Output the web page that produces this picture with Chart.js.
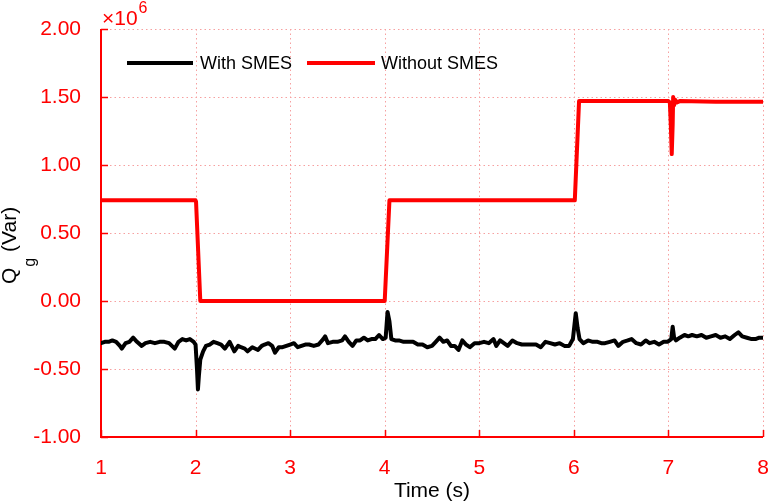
<!DOCTYPE html>
<html><head><meta charset="utf-8">
<script src="https://cdn.jsdelivr.net/npm/chart.js@4.4.1/dist/chart.umd.min.js"></script>
<style>html,body{margin:0;padding:0;background:#fff}#wrap{width:768px;height:502px}</style>
</head><body><div id="wrap"><canvas id="c" width="768" height="502"></canvas></div>
<script>
// Time (s)
const timeWith = [
1.00,1.04,1.08,1.12,1.16,1.20,1.22,1.26,1.30,1.34,
1.38,1.43,1.47,1.52,1.57,1.62,1.67,1.72,1.78,1.82,
1.86,1.90,1.94,1.98,2.00,2.015,2.025,2.035,2.05,2.08,
2.11,2.15,2.19,2.23,2.27,2.31,2.36,2.41,2.45,2.48,
2.52,2.55,2.60,2.66,2.70,2.73,2.77,2.81,2.84,2.88,
2.92,2.96,3.00,3.04,3.08,3.12,3.16,3.20,3.25,3.30,
3.35,3.37,3.40,3.45,3.50,3.55,3.58,3.62,3.66,3.70,
3.74,3.78,3.82,3.86,3.90,3.94,3.98,4.01,4.03,4.05,
4.07,4.11,4.15,4.20,4.25,4.30,4.35,4.40,4.45,4.50,
4.54,4.58,4.62,4.66,4.70,4.74,4.78,4.82,4.86,4.90,
4.95,5.00,5.05,5.10,5.15,5.18,5.22,5.26,5.30,5.35,
5.40,5.45,5.50,5.55,5.60,5.65,5.70,5.75,5.80,5.85,
5.90,5.95,5.99,6.02,6.04,6.06,6.10,6.15,6.20,6.25,
6.29,6.33,6.38,6.43,6.47,6.52,6.57,6.61,6.66,6.71,
6.76,6.80,6.85,6.90,6.95,6.99,7.03,7.045,7.06,7.08,
7.12,7.17,7.21,7.25,7.30,7.35,7.40,7.45,7.50,7.55,
7.60,7.65,7.70,7.74,7.78,7.83,7.88,7.92,7.96,8.00];
// Qg with SMES (x10^6 Var)
const qWith = [
-0.31,-0.30,-0.30,-0.29,-0.30,-0.33,-0.35,-0.31,-0.30,-0.27,
-0.30,-0.33,-0.31,-0.30,-0.31,-0.30,-0.30,-0.31,-0.35,-0.30,
-0.28,-0.29,-0.28,-0.30,-0.32,-0.50,-0.65,-0.55,-0.43,-0.37,
-0.33,-0.32,-0.30,-0.31,-0.32,-0.35,-0.30,-0.37,-0.33,-0.34,
-0.35,-0.37,-0.34,-0.36,-0.33,-0.32,-0.31,-0.33,-0.38,-0.34,
-0.34,-0.33,-0.32,-0.31,-0.34,-0.33,-0.32,-0.32,-0.33,-0.32,
-0.28,-0.26,-0.31,-0.30,-0.30,-0.29,-0.26,-0.30,-0.33,-0.29,
-0.29,-0.27,-0.29,-0.28,-0.28,-0.25,-0.28,-0.27,-0.08,-0.15,
-0.28,-0.29,-0.29,-0.30,-0.30,-0.30,-0.32,-0.32,-0.34,-0.33,
-0.30,-0.27,-0.30,-0.29,-0.33,-0.33,-0.36,-0.29,-0.32,-0.34,
-0.31,-0.31,-0.30,-0.31,-0.28,-0.33,-0.29,-0.31,-0.33,-0.29,
-0.31,-0.32,-0.32,-0.32,-0.32,-0.34,-0.30,-0.31,-0.32,-0.31,
-0.33,-0.33,-0.28,-0.09,-0.20,-0.28,-0.31,-0.29,-0.30,-0.30,
-0.31,-0.31,-0.30,-0.29,-0.33,-0.30,-0.29,-0.28,-0.31,-0.32,
-0.29,-0.31,-0.30,-0.32,-0.30,-0.30,-0.28,-0.19,-0.27,-0.29,
-0.27,-0.25,-0.26,-0.25,-0.26,-0.25,-0.27,-0.26,-0.25,-0.27,
-0.26,-0.28,-0.25,-0.23,-0.26,-0.27,-0.28,-0.28,-0.27,-0.27];
const timeWithout = [1.00,1.30,1.60,2.00,2.005,2.05,2.50,3.00,3.50,4.00,4.05,4.50,5.00,5.50,6.01,6.055,6.50,7.00,7.015,7.025,7.035,7.045,7.05,7.06,7.07,7.09,7.12,7.50,8.00];
const qWithout = [0.74,0.74,0.74,0.74,0.73,0.00,0.00,0.00,0.00,0.00,0.74,0.74,0.74,0.74,0.74,1.47,1.47,1.47,1.46,1.30,1.08,1.30,1.50,1.44,1.48,1.46,1.47,1.465,1.465];
const seriesNames = ['With SMES','Without SMES'];
const xTicks = [1,2,3,4,5,6,7,8];
const yTicks = [-1.00,-0.50,0.00,0.50,1.00,1.50,2.00];
const xTitle = 'Time (s)';
const yTitleMain = 'Q', yTitleSub = 'g', yTitleRest = ' (Var)';
const exponentLabel = '6';

const FONT = 'Liberation Sans, Arial, sans-serif';
const RED = '#ff0000';

const toPts = (ts, vs) => ts.map((t, i) => ({x: t, y: vs[i]}));

const decor = {
  id: 'decor',
  beforeDatasetsDraw(chart) {
    const {ctx, chartArea: a, scales: {x, y}} = chart;
    ctx.save();
    // dotted grid
    ctx.strokeStyle = '#f6a0a0'; ctx.lineWidth = 1; ctx.setLineDash([1.5, 3]);
    ctx.beginPath();
    yTicks.forEach(v => { const py = Math.round(y.getPixelForValue(v)) + 0.5; ctx.moveTo(a.left, py); ctx.lineTo(a.right, py); });
    xTicks.forEach(v => { const px = Math.round(x.getPixelForValue(v)) + 0.5; ctx.moveTo(px, a.top); ctx.lineTo(px, a.bottom); });
    ctx.stroke();
    ctx.setLineDash([]);
    // axes
    ctx.strokeStyle = RED; ctx.lineWidth = 2;
    ctx.beginPath();
    ctx.moveTo(a.left, a.top); ctx.lineTo(a.left, a.bottom); ctx.lineTo(a.right, a.bottom);
    ctx.stroke();
    // inward ticks
    ctx.lineWidth = 1.5;
    ctx.beginPath();
    yTicks.forEach(v => { const py = Math.round(y.getPixelForValue(v)) + 0.5; ctx.moveTo(a.left, py); ctx.lineTo(a.left + 7, py); });
    xTicks.forEach(v => { const px = Math.round(x.getPixelForValue(v)) + 0.5; ctx.moveTo(px, a.bottom); ctx.lineTo(px, a.bottom - 7); });
    ctx.stroke();
    ctx.restore();
  },
  afterDraw(chart) {
    const {ctx, chartArea: a} = chart;
    ctx.save();
    // legend
    ctx.font = '18px ' + FONT; ctx.textBaseline = 'middle'; ctx.textAlign = 'left';
    const ly = 63;
    const legX = [[127, 193, 200], [307, 375, 381]];
    chart.data.datasets.forEach((ds, i) => {
      ctx.strokeStyle = ds.borderColor; ctx.lineWidth = 4;
      ctx.beginPath(); ctx.moveTo(legX[i][0], ly); ctx.lineTo(legX[i][1], ly); ctx.stroke();
      ctx.fillStyle = '#000'; ctx.fillText(ds.label, legX[i][2], ly + 1);
    });
    // x title
    ctx.font = '21px ' + FONT; ctx.textAlign = 'center'; ctx.textBaseline = 'alphabetic';
    ctx.fillStyle = '#000';
    ctx.fillText(xTitle, (a.left + a.right) / 2, 497);
    // y title rotated
    ctx.rotate(-Math.PI / 2);
    ctx.textAlign = 'left';
    let lx = -284;
    ctx.font = '21px ' + FONT; ctx.fillText(yTitleMain, lx, 16); lx += ctx.measureText(yTitleMain).width + 1;
    ctx.font = '16px ' + FONT; ctx.fillText(yTitleSub, lx, 35); lx += ctx.measureText(yTitleSub).width;
    ctx.font = '21px ' + FONT; ctx.fillText(yTitleRest, lx, 16);
    ctx.setTransform(1, 0, 0, 1, 0, 0);
    // exponent
    ctx.fillStyle = RED; ctx.textAlign = 'left';
    ctx.font = '21px ' + FONT; ctx.fillText('\u00d710', 102, 25);
    const w = ctx.measureText('\u00d710').width;
    ctx.font = '16px ' + FONT; ctx.fillText(exponentLabel, 102 + w + 1, 13);
    ctx.restore();
  }
};

new Chart(document.getElementById('c'), {
  type: 'line',
  data: {
    datasets: [
      {label: seriesNames[0], data: toPts(timeWith, qWith), borderColor: '#000000', borderWidth: 4, borderJoinStyle: 'round', borderCapStyle: 'round', pointRadius: 0, tension: 0, order: 1},
      {label: seriesNames[1], data: toPts(timeWithout, qWithout), borderColor: RED, borderWidth: 4, borderJoinStyle: 'round', borderCapStyle: 'round', pointRadius: 0, tension: 0, order: 2}
    ]
  },
  options: {
    responsive: false, animation: false, devicePixelRatio: 1,
    layout: {padding: {top: 29, right: 5, left: 0, bottom: 0}},
    plugins: {legend: {display: false}, tooltip: {enabled: false}},
    scales: {
      x: {
        type: 'linear', min: 1, max: 8,
        afterBuildTicks: s => { s.ticks = xTicks.map(v => ({value: v})); },
        afterFit: s => { s.height = 65; s.paddingLeft = 0; s.paddingRight = 0; },
        ticks: {color: RED, font: {family: FONT, size: 21}, padding: 11, maxRotation: 0, autoSkip: false},
        grid: {display: false},
        border: {display: false}
      },
      y: {
        type: 'linear', min: -1, max: 2,
        afterBuildTicks: s => { s.ticks = yTicks.map(v => ({value: v})); },
        afterFit: s => { s.width = 101; s.paddingTop = 0; s.paddingBottom = 0; },
        ticks: {color: RED, font: {family: FONT, size: 21}, padding: 12, callback: v => Number(v).toFixed(2), autoSkip: false},
        grid: {display: false},
        border: {display: false}
      }
    }
  },
  plugins: [decor]
});
</script></body></html>
